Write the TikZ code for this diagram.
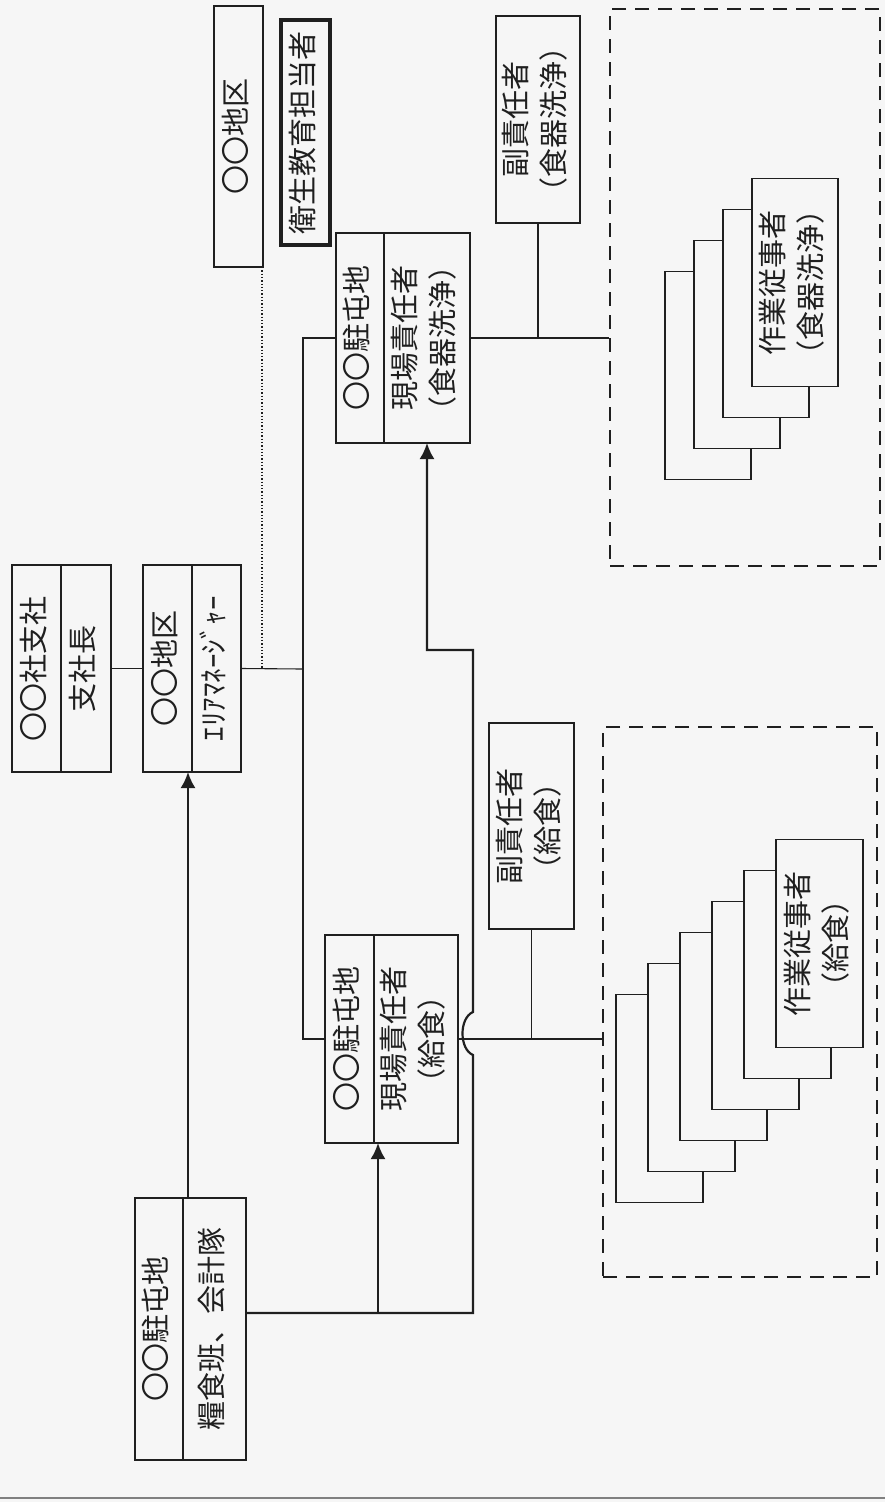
\documentclass[tikz,border=0pt]{standalone}
\usepackage{fontspec}
\usepackage{graphicx}
\usepackage{tikz}
\setmainfont{Noto Sans CJK JP}
\usetikzlibrary{arrows.meta}
\usetikzlibrary{calc}
\definecolor{paper}{gray}{0.965}
\definecolor{ink}{gray}{0.12}
\newcommand{\tate}[1]{\rotatebox{90}{\begin{tabular}{@{}c@{}}#1\end{tabular}}}
\tikzset{cell/.style = {draw=ink, line width=1.8pt, inner sep=0, outer sep=0,
                        text=ink, font=\fontsize{29}{38}\selectfont}}
\tikzset{sheet/.style = {cell, fill=paper, minimum width=#1, minimum height=208pt}}
\tikzset{link/.style = {draw=ink, line width=1.1pt}}
\tikzset{feed/.style = {draw=ink, line width=2.2pt, -{Latex[length=16pt,width=15pt]}}}
\tikzset{group/.style = {draw=ink, line width=2pt, dash pattern=on 14pt off 9pt}}

\begin{document}
\begin{tikzpicture}[x=1pt, y=-1pt]
      \fill [paper] (0,0) rectangle (885,1502);
      \useasboundingbox (0,0) rectangle (885,1502);

      \node [cell, minimum width=49pt, minimum height=207pt] (shisha-l) at (36.5,668.5) {\tate{〇〇社支社}};
      \node [cell, minimum width=50pt, minimum height=207pt] (shisha-r) at (86,668.5) {\tate{支社長}};
      \node [cell, minimum width=49pt, minimum height=207pt] (chiku-l) at (167.5,668.5) {\tate{〇〇地区}};
      \node [cell, minimum width=49pt, minimum height=207pt] (chiku-r) at (216.5,668.5) {\tate{ｴﾘｱﾏﾈｰｼﾞｬｰ}};
      \node [cell, minimum width=49pt, minimum height=261pt] (chiku2) at (238.5,136.5) {\tate{〇〇地区}};
      \node [cell, line width=4pt, minimum width=49pt, minimum height=225pt] (eisei) at (305.5,132.5) {\tate{衛生教育担当者}};

      \node [cell, minimum width=48pt, minimum height=210pt] (senjo-l) at (360,338) {\tate{〇〇駐屯地}};
      \node [cell, minimum width=86pt, minimum height=210pt] (senjo-r) at (427,338) {\tate{現場責任者\\（食器洗浄）}};
      \node [cell, minimum width=84pt, minimum height=207pt] (senjo-sub) at (538,119.5) {\tate{副責任者\\（食器洗浄）}};
      \node [group, minimum width=270pt, minimum height=557pt] (senjo-grp) at (745,287.5) {};
      \foreach \k in {3,2,1}
        \node [sheet=86pt] (senjo-w\k) at ({795-29*\k},{282.5+31*\k}) {};
      \node [sheet=86pt] (senjo-w0) at (795,282.5) {\tate{作業従事者\\（食器洗浄）}};

      \node [cell, minimum width=49pt, minimum height=208pt] (kyushoku-l) at (349.5,1039) {\tate{〇〇駐屯地}};
      \node [cell, minimum width=84pt, minimum height=208pt] (kyushoku-r) at (416,1039) {\tate{現場責任者\\（給食）}};
      \node [cell, minimum width=85pt, minimum height=206pt] (kyushoku-sub) at (531.5,826) {\tate{副責任者\\（給食）}};
      \node [group, minimum width=274pt, minimum height=550pt] (kyushoku-grp) at (740,1002) {};
      \foreach \k in {5,4,3,2,1}
        \node [sheet=87pt] (kyushoku-w\k) at ({819.5-32*\k},{943.5+31*\k}) {};
      \node [sheet=87pt] (kyushoku-w0) at (819.5,943.5) {\tate{作業従事者\\（給食）}};

      \node [cell, minimum width=48pt, minimum height=262pt] (ryoshoku-l) at (159,1329) {\tate{〇〇駐屯地}};
      \node [cell, minimum width=63pt, minimum height=262pt] (ryoshoku-r) at (214.5,1329) {\tate{糧食班、会計隊}};

      \coordinate (trunk) at (303,669);
      \coordinate (riser) at (473,650);
      \coordinate (ryo-out) at ([yshift=16pt]ryoshoku-r.east);
      \coordinate (hop) at (riser |- kyushoku-r.east);

      \draw [link] (shisha-r.east) -- (chiku-l.west);
      \draw [link] (chiku-r.east) -- (trunk);
      \draw [link] (senjo-l.west) -| (trunk) |- (kyushoku-l.west);
      \draw [ink, dotted, line width=1.3pt] ($(chiku2.south east)+(-1,0)$) -- ($(chiku2.south east |- trunk)+(-1,0)$);
      \draw [link] (senjo-r.east) -- (senjo-r.east -| senjo-grp.west);
      \draw [link] (senjo-sub.south) -- (senjo-sub.south |- senjo-r.east);
      \draw [link] (kyushoku-r.east) -- (kyushoku-r.east -| kyushoku-grp.west);
      \draw [link] (kyushoku-sub.south) -- (kyushoku-sub.south |- kyushoku-r.east);

      \draw [feed] ($(ryoshoku-r.north west)+(5,0)$) -- ($(ryoshoku-r.north west |- chiku-l.south)+(5,0)$);
      \draw [feed] ($(kyushoku-r.south west |- ryo-out)+(4,0)$) -- ($(kyushoku-r.south west)+(4,0)$);
      \draw [feed] (ryo-out) -| ([yshift=-16pt]hop) .. controls +(-14,-6) and +(-14,6) .. ([yshift=27pt]hop) -- (riser) -| (senjo-r.south);

      \draw [gray, line width=2pt] (0,1498) -- (885,1498);
    \end{tikzpicture}
\end{document}
